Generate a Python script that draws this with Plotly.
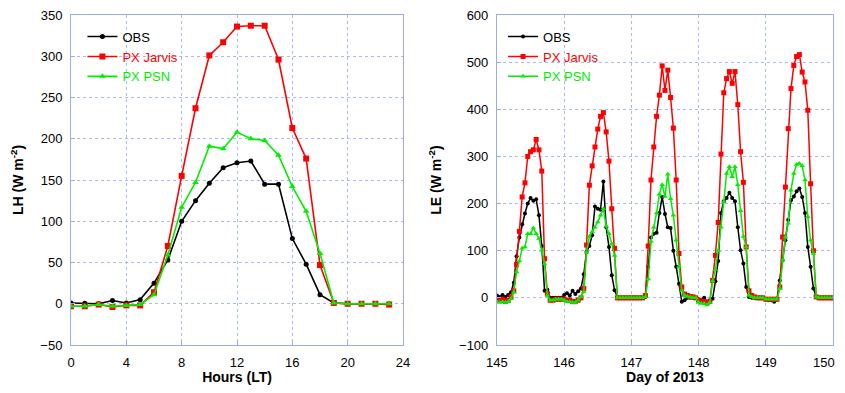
import plotly.graph_objects as go

# ---------------- Left panel: diurnal LH ----------------
hours = list(range(24))
lh_obs = [1, 0.5, 0, 4, 1, 5, 25, 53, 100, 125, 146, 165, 171, 173, 145, 145, 79, 48, 11, 1, 0, 0, 0, 0]
lh_jarvis = [-3, -3, -1, -4, -2, -2, 14, 70, 155, 237, 301, 317, 336, 337, 337, 296, 213, 176, 47, 1, 0, 0, 0, -1]
lh_psn = [-3, -3, -1, -3, -2, -1, 11, 59, 117, 147, 191, 188, 208, 200, 198, 180, 142, 112, 61, 1, 0, 0, 0, 0]

# ---------------- Right panel: hourly LE, days 145-150 ----------------
le_obs = (
    [5, 2, 6, 2, 6, 12, 32, 88, 128, 156, 179, 200, 212, 206, 209, 175, 110, 15, 17, 0, 0, 0, 0, 0]
    + [6, 10, 5, 15, 8, 14, 20, 50, 98, 110, 133, 194, 189, 187, 247, 150, 108, 48, 16, 2, 0, 0, 0, 0]
    + [0, 0, 0, 0, 0, 2, 66, 128, 136, 138, 180, 214, 178, 150, 148, 100, 66, 30, -8, -5, 0, 0, 0, 0]
    + [-3, -5, 0, -8, -5, -2, 35, 78, 180, 205, 212, 223, 212, 205, 150, 101, 73, 23, 2, 0, 0, 0, 0, 0]
    + [-3, -5, -5, -8, -3, 37, 80, 122, 165, 207, 215, 226, 232, 214, 180, 108, 66, 20, 2, 0, 0, 0, 0, 0]
    + [0]
)
le_jarvis = (
    [-5, -5, -3, -8, -5, 2, 15, 71, 141, 214, 244, 300, 310, 314, 336, 314, 269, 83, 9, -5, -5, -3, -3, -3]
    + [-3, -5, -5, -8, -8, -5, 0, 20, 112, 239, 280, 320, 358, 385, 393, 352, 290, 189, 105, 0, 0, 0, 0, 0]
    + [0, 0, 0, 0, 0, 5, 110, 250, 320, 385, 430, 492, 440, 483, 425, 360, 250, 94, 23, 8, 5, 3, 2, 0]
    + [-5, -8, -8, -10, -8, 37, 90, 160, 305, 435, 465, 480, 455, 480, 410, 310, 245, 108, 15, 5, 2, 0, 0, 0]
    + [-3, -3, -3, -3, -3, 23, 129, 235, 359, 444, 493, 512, 516, 479, 458, 398, 242, 100, 2, 0, 0, 0, 0, 0]
    + [0]
)
le_psn = (
    [-8, -10, -8, -10, -8, -2, 12, 55, 78, 105, 108, 136, 136, 148, 136, 126, 101, 73, 5, -5, -5, -3, -3, -3]
    + [-5, -8, -8, -10, -10, -5, 2, 13, 97, 130, 140, 150, 161, 175, 189, 152, 136, 115, 90, 0, 0, 0, 0, 0]
    + [0, 0, 0, 0, 0, 2, 40, 120, 150, 180, 220, 240, 215, 262, 210, 175, 122, 66, 15, 5, 3, 2, 0, 0]
    + [-10, -12, -12, -15, -10, 36, 60, 100, 150, 204, 264, 278, 257, 278, 240, 185, 130, 108, 5, 2, 0, 0, 0, 0]
    + [-3, -3, -3, -3, -3, 20, 80, 129, 158, 228, 264, 283, 285, 280, 250, 172, 122, 94, 2, 0, 0, 0, 0, 0]
    + [0]
)
le_time = [145 + h / 24 for h in range(len(le_obs))]
day_ticks = [145, 146, 147, 148, 149, 150]

series_names = ["OBS", "PX Jarvis", "PX PSN"]
series_colors = ["#000000", "#ff0000", "#00ee00"]
series_symbols = ["circle", "square", "triangle-up"]
marker_sizes = [5, 6, 6]

FRAME = "#98acf2"
GRID = "#a9baf0"
FONT = "Liberation Sans, Arial, sans-serif"

fig = go.Figure()

for name, col, sym, ms, ys in zip(series_names, series_colors, series_symbols, marker_sizes,
                                  [lh_obs, lh_jarvis, lh_psn]):
    fig.add_trace(go.Scatter(
        x=hours, y=ys, mode="lines+markers",
        name=f"<span style='color:{col}'>{name}</span>",
        line=dict(color=col, width=1.6),
        marker=dict(symbol=sym, size=ms, color=col),
        xaxis="x", yaxis="y", legend="legend",
    ))

for name, col, sym, ms, ys in zip(series_names, series_colors, series_symbols, marker_sizes,
                                  [le_obs, le_jarvis, le_psn]):
    fig.add_trace(go.Scatter(
        x=le_time, y=ys, mode="lines+markers",
        name=f"<span style='color:{col}'>{name}</span>",
        line=dict(color=col, width=1.5),
        marker=dict(symbol=sym, size=ms - 1, color=col),
        xaxis="x2", yaxis="y2", legend="legend2",
    ))

axis_common = dict(
    showline=True, linecolor=FRAME, linewidth=1, mirror=True,
    showgrid=True, gridcolor=GRID, griddash="dot", gridwidth=1,
    ticks="inside", ticklen=4, tickcolor=FRAME,
    tickfont=dict(family=FONT, size=13, color="#000"),
    zeroline=False, automargin=False, ticklabeloverflow="allow",
)

title_font = dict(family=FONT, size=14, color="#000")

# Last day label is drawn as an annotation nudged left so it is not clipped
# at the right edge of the window.
day_ticktext = [str(d) for d in day_ticks[:-1]] + [""]

fig.update_layout(
    width=837, height=377,
    margin=dict(l=63, r=12, t=7, b=40),
    paper_bgcolor="white", plot_bgcolor="white",
    font=dict(family=FONT, size=13, color="#000"),
    xaxis=dict(domain=[0, 0.4357], range=[0, 24], tick0=0, dtick=4, anchor="y",
               ticklabelstandoff=5,
               title=dict(text="<b>Hours (LT)</b>", font=title_font, standoff=4), **axis_common),
    yaxis=dict(domain=[0, 1], range=[-50, 350], dtick=50, anchor="x",
               ticklabelstandoff=5,
               title=dict(text="<b>LH (W m<sup>-2</sup>)</b>", font=title_font, standoff=14), **axis_common),
    xaxis2=dict(domain=[0.559, 1], range=[145, 150], tickmode="array", tickvals=day_ticks,
                ticktext=day_ticktext, anchor="y2",
                ticklabelstandoff=5,
                title=dict(text="<b>Day of 2013</b>", font=title_font, standoff=4), **axis_common),
    yaxis2=dict(domain=[0, 1], range=[-100, 600], dtick=100, anchor="x2",
                ticklabelstandoff=5,
                title=dict(text="<b>LE (W m<sup>-2</sup>)</b>", font=title_font, standoff=14), **axis_common),
    legend=dict(x=0.015, y=0.98, xanchor="left", yanchor="top", bgcolor="rgba(0,0,0,0)",
                font=dict(family=FONT, size=13), tracegroupgap=0, itemwidth=30),
    legend2=dict(x=0.567, y=0.98, xanchor="left", yanchor="top", bgcolor="rgba(0,0,0,0)",
                 font=dict(family=FONT, size=13), tracegroupgap=0, itemwidth=30),
    showlegend=True,
    annotations=[dict(
        text=str(day_ticks[-1]), x=day_ticks[-1], xref="x2", y=0, yref="y2 domain",
        xanchor="right", yanchor="top", xshift=4, yshift=-8, showarrow=False,
        font=dict(family=FONT, size=13, color="#000"),
    )],
)

fig.write_html("out.html")
